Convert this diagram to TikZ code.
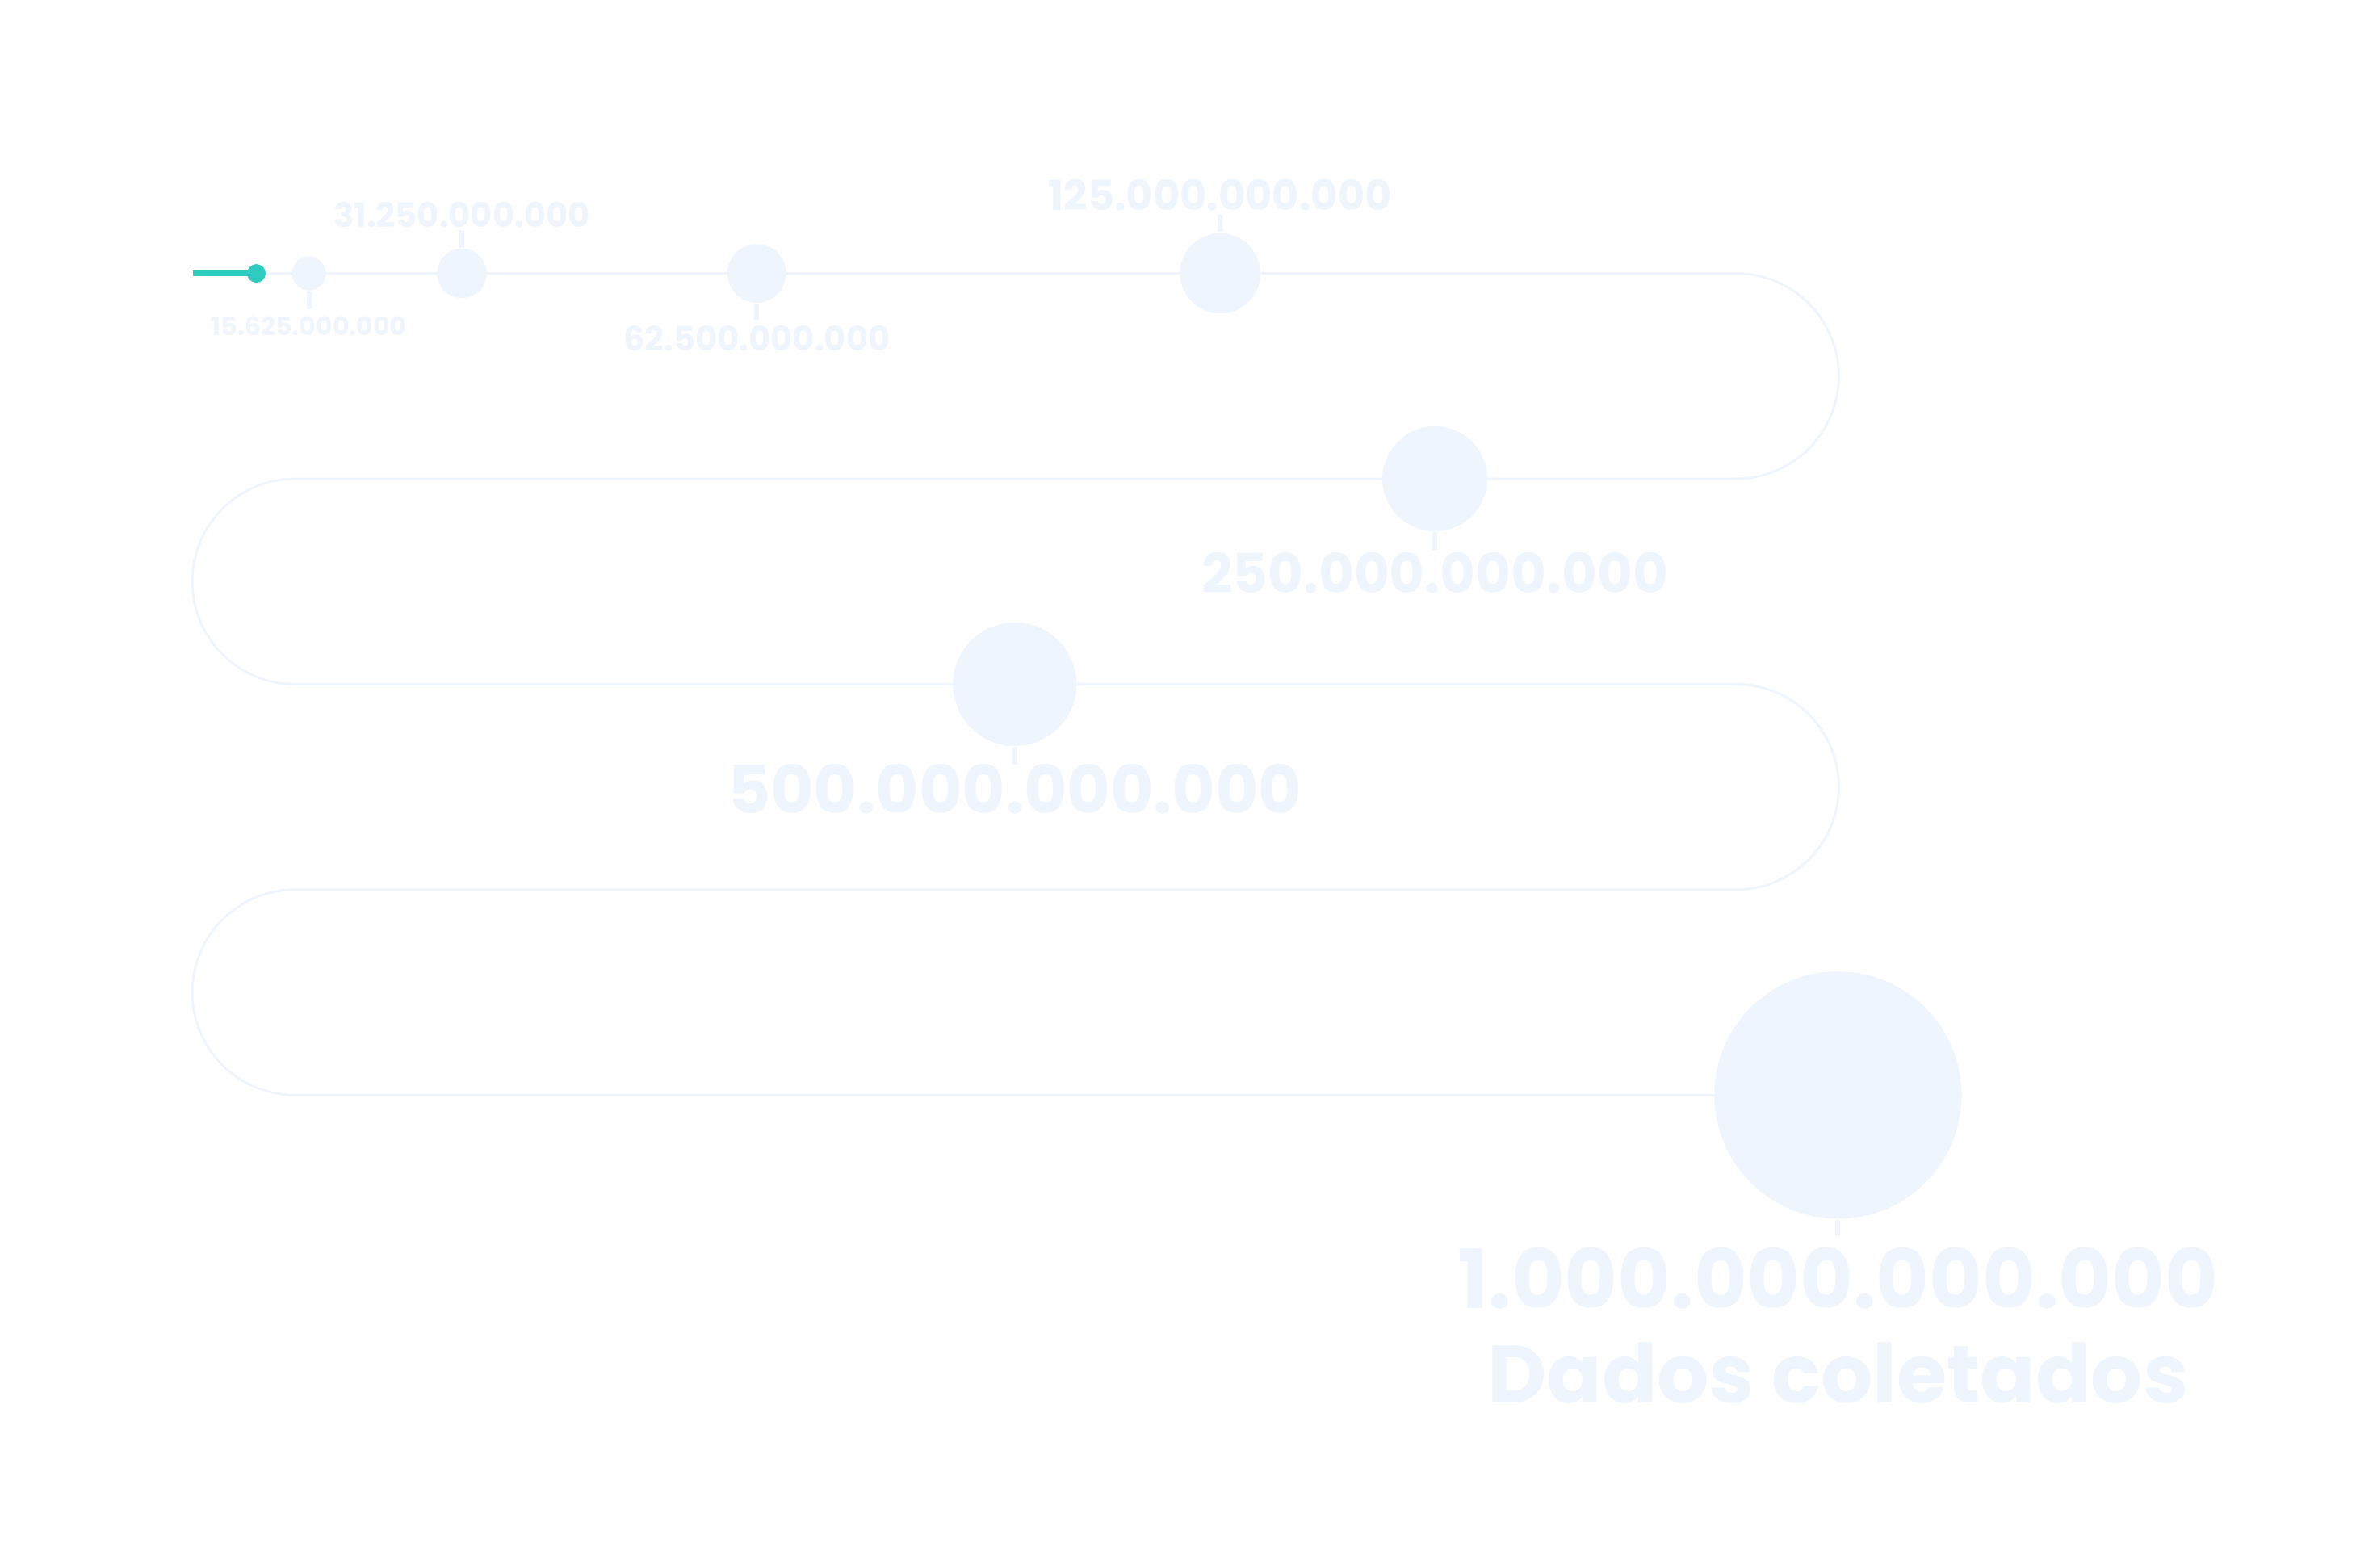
\documentclass[tikz,border=0pt]{standalone}
\usepackage{fontspec}
\setmainfont{Poppins}
\definecolor{pale}{HTML}{EEF5FD}
\definecolor{teal}{HTML}{2ECBC0}
\begin{document}
\begin{tikzpicture}[x=0.01cm,y=-0.01cm,
  dot/.style={circle,fill=pale,inner sep=0pt},
  amount/.style={text=pale,font=\bfseries,inner sep=0pt},
  tick/.style={pale,line width=0.9pt}]
  \useasboundingbox (0,0) rectangle (1539,1015);
  % winding road
  \draw[pale,line width=0.45pt] (166,177) -- (1124,177) arc (-90:90:66.5)
    -- (191,310) arc (270:90:66.5) -- (1124,443) arc (-90:90:66.5)
    -- (191,576) arc (270:90:66.5) -- (1190,709);
  \draw[teal,line width=1.1pt] (125,177) -- (166,177);
  \node[circle,fill=teal,minimum size=0.12cm,inner sep=0pt] (s) at (166,177) {};
  % milestones
  \node[dot,minimum size=0.22cm] (c1) at (200,177) {};
  \node[dot,minimum size=0.32cm] (c2) at (299,177) {};
  \node[dot,minimum size=0.38cm] (c3) at (490,177) {};
  \node[dot,minimum size=0.52cm] (c4) at (790,177) {};
  \node[dot,minimum size=0.68cm] (c5) at (929,310) {};
  \node[dot,minimum size=0.80cm] (c6) at (657,443) {};
  \node[dot,minimum size=1.60cm] (c7) at (1190,709) {};
  \node[amount,font=\fontsize{4.7}{6}\selectfont\bfseries,anchor=north] (l1) at (200,204) {15.625.000.000};
  \node[amount,font=\fontsize{6.2}{8}\selectfont\bfseries,anchor=south] (l2) at (299,148) {31.250.000.000};
  \node[amount,font=\fontsize{6.2}{8}\selectfont\bfseries,anchor=north] (l3) at (490,210) {62.500.000.000};
  \node[amount,font=\fontsize{7.6}{10}\selectfont\bfseries,anchor=south] (l4) at (790,137) {125.000.000.000};
  \node[amount,font=\fontsize{10}{13}\selectfont\bfseries,anchor=north] (l5) at (929,357) {250.000.000.000};
  \node[amount,font=\fontsize{12.2}{16}\selectfont\bfseries,anchor=north] (l6) at (657,494) {500.000.000.000};
  \node[amount,font=\fontsize{15}{17.5}\selectfont\bfseries,anchor=north,align=center] (l7) at (1190,807) {1.000.000.000.000\\Dados coletados};
  \draw[tick] (c1.south) -- (200,200);
  \draw[tick] (c2.north) -- (299,149);
  \draw[tick] (c3.south) -- (490,207);
  \draw[tick] (c4.north) -- (790,139);
  \draw[tick] (c5.south) -- (929,356);
  \draw[tick] (c6.south) -- (657,495);
  \draw[tick] (c7.south) -- (1190,800);
\end{tikzpicture}
\end{document}
